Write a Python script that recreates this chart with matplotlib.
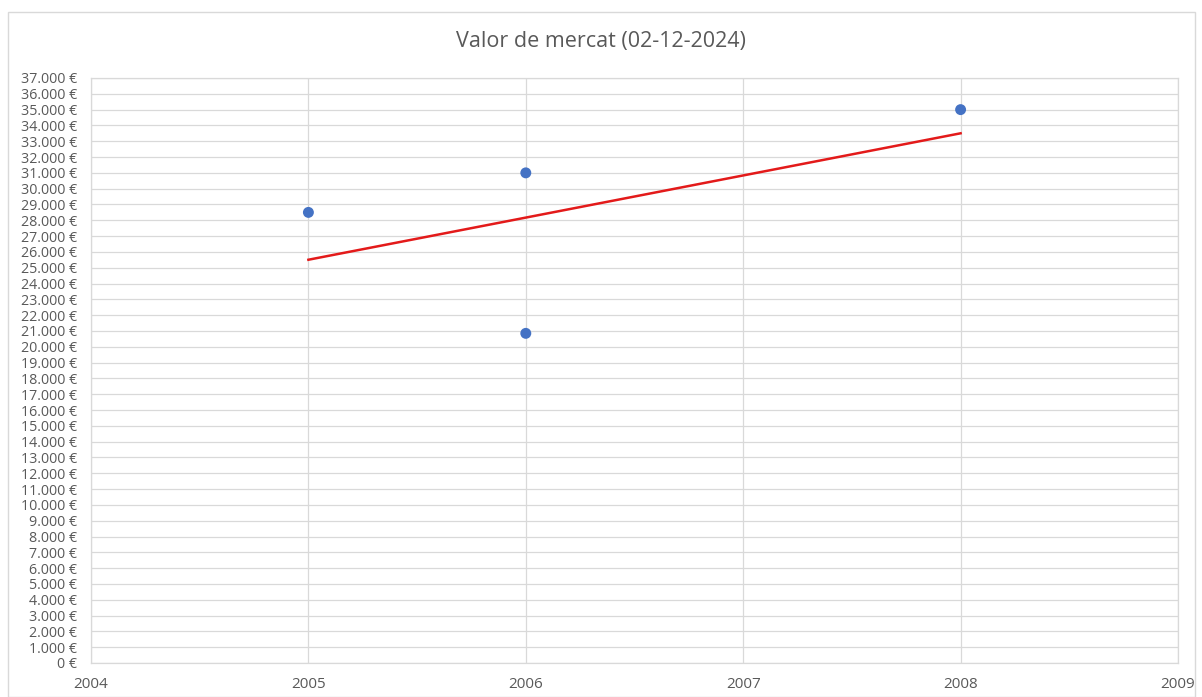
import matplotlib
matplotlib.use("Agg")
import matplotlib.pyplot as plt
import numpy as np
from matplotlib.ticker import FuncFormatter, MultipleLocator
from matplotlib.patches import Rectangle

title = "Valor de mercat (02-12-2024)"
years = [2005, 2006, 2006, 2008]
values = [28500, 31000, 20850, 35000]
x_limits = (2004, 2009)
y_limits = (0, 37000)

plt.rcParams['font.family'] = ['Open Sans', 'DejaVu Sans']

fig = plt.figure(figsize=(12.02, 6.97), dpi=100)
ax = fig.add_axes([91/1202, 1 - 663/697, (1178-91)/1202, (663-78)/697])

grid_c = "#D9D9D9"
text_c = "#595959"

# chart border
fig.patches.append(Rectangle((8/1202, 0.0), (1195-8)/1202, 1 - 12/697,
                             transform=fig.transFigure, fill=False,
                             edgecolor=grid_c, linewidth=1.0))

ax.scatter(years, values, s=62, color="#4472C4", zorder=3, edgecolors="none")

# linear trendline
xs = np.array(years, dtype=float)
ys = np.array(values, dtype=float)
m, b = np.polyfit(xs, ys, 1)
xt = np.array([min(years), max(years)], dtype=float)
ax.plot(xt, m * xt + b, color="#E31A1A", linewidth=1.8, zorder=2)

ax.set_xlim(*x_limits)
ax.set_ylim(*y_limits)
ax.xaxis.set_major_locator(MultipleLocator(1))
ax.yaxis.set_major_locator(MultipleLocator(1000))
ax.xaxis.set_major_formatter(FuncFormatter(lambda v, p: f"{int(round(v))}"))
ax.yaxis.set_major_formatter(FuncFormatter(
    lambda v, p: (f"{int(round(v)):,}".replace(",", ".") + " €")))

ax.grid(True, color=grid_c, linewidth=0.9)
ax.set_axisbelow(True)
for s in ax.spines.values():
    s.set_color(grid_c)
    s.set_linewidth(0.9)
ax.tick_params(axis='both', length=0, colors=text_c)
ax.tick_params(axis='y', pad=10, labelsize=10.3)
ax.tick_params(axis='x', pad=10, labelsize=11)

fig.text(0.5, 1 - 42/697, title, ha='center', va='center', fontsize=15.5, color=text_c)

fig.savefig("out.png", dpi=100)
